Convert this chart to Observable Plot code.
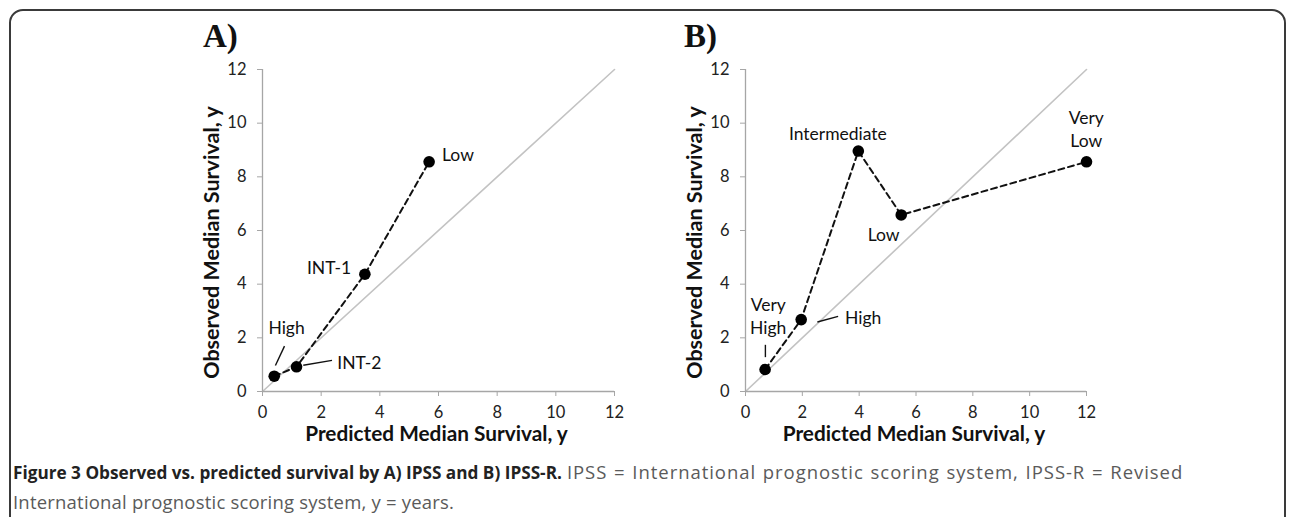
<!DOCTYPE html>
<html>
<head>
<meta charset="utf-8">
<script src="https://cdn.jsdelivr.net/npm/d3@7"></script>
<script src="https://cdn.jsdelivr.net/npm/@observablehq/plot@0.6"></script>
<style>
  html, body { margin: 0; padding: 0; background: #fff; }
  body { width: 1290px; height: 517px; position: relative; overflow: hidden; }
  #border { position: absolute; left: 9px; top: 9px; width: 1277px; height: 560px;
            border: 2px solid #3a3a3a; border-radius: 14px; box-sizing: border-box; }
  .panel { position: absolute; top: 0; }
  .ptitle { position: absolute; font-family: "Liberation Serif", "Times New Roman", serif;
            font-weight: bold; font-size: 33px; line-height: 33px; color: #111; }
  #caption { position: absolute; left: 13px; top: 457px; width: 1260px;
             font-family: "Open Sans", sans-serif; font-size: 18.5px; line-height: 29px; color: #5a5a5a;
             letter-spacing: 0.2px; }
  #caption .l1 { display: block; white-space: nowrap; }
  #caption .l1 .n { letter-spacing: 0.95px; word-spacing: 1px; }
  #caption b { color: #222; font-weight: 700; font-size: 17.2px; letter-spacing: 0; }
</style>
</head>
<body>
<div id="border"></div>
<div class="ptitle" style="left:203px; top:20px;">A)</div>
<div class="ptitle" style="left:684px; top:20px;">B)</div>
<div id="panelA" class="panel" style="left:150px;"></div>
<div id="panelB" class="panel" style="left:640px;"></div>
<div id="caption"><span class="l1"><b>Figure 3 Observed vs. predicted survival by A) IPSS and B) IPSS-R.</b> <span class="n">IPSS = International prognostic scoring system, IPSS-R = Revised</span></span>International prognostic scoring system, y = years.</div>
<script>
// ---- data ----
const tickValues = [0, 2, 4, 6, 8, 10, 12];
const xLabel = "Predicted Median Survival, y";
const yLabel = "Observed Median Survival, y";

// A) IPSS
const ipssCategories = ["High", "INT-2", "INT-1", "Low"];
const ipssPredicted = [0.40, 1.16, 3.49, 5.68];
const ipssObserved = [0.57, 0.92, 4.37, 8.56];

// B) IPSS-R
const ipssrCategories = ["Very High", "High", "Intermediate", "Low", "Very Low"];
const ipssrPredicted = [0.69, 1.96, 3.97, 5.48, 12.0];
const ipssrObserved = [0.82, 2.68, 8.96, 6.58, 8.56];

// identity reference line (predicted = observed)
const identity = [0, 12];

// label placements (data units)
const labelsA = [
  {text: "High", x: 0.82, y: 2.40, anchor: "middle"},
  {text: "INT-2", x: 2.55, y: 1.12, anchor: "start"},
  {text: "INT-1", x: 3.02, y: 4.65, anchor: "end"},
  {text: "Low", x: 6.12, y: 8.88, anchor: "start"}
];
const leadersA = [
  {x1: 0.75, y1: 1.69, x2: 0.44, y2: 0.97},
  {x1: 1.39, y1: 0.98, x2: 2.37, y2: 1.16}
];
const labelsB = [
  {text: "Very\nHigh", x: 0.80, y: 2.84, anchor: "middle"},
  {text: "High", x: 3.50, y: 2.78, anchor: "start"},
  {text: "Intermediate", x: 3.25, y: 9.66, anchor: "middle"},
  {text: "Low", x: 4.86, y: 5.87, anchor: "middle"},
  {text: "Very\nLow", x: 11.99, y: 9.80, anchor: "middle"}
];
const leadersB = [
  {x1: 0.70, y1: 1.74, x2: 0.70, y2: 1.28},
  {x1: 2.53, y1: 2.59, x2: 3.26, y2: 2.80}
];

const AXIS = "#a6a6a6";
const FONT = "Lato, 'Open Sans', sans-serif";

function labelMarks(labels) {
  return ["start", "middle", "end"].map(a =>
    Plot.text(labels.filter(d => d.anchor === a), {x: "x", y: "y", text: "text", textAnchor: a,
      lineAnchor: "middle", lineHeight: 1.3, fontSize: 17.5, fill: "#111"}));
}

function panel({cats, pred, obs, labels, leaders, marginLeft, width, frameW}) {
  const pts = cats.map((c, i) => ({cat: c, x: pred[i], y: obs[i]}));
  return Plot.plot({
    width, height: 460,
    marginLeft, marginRight: width - marginLeft - frameW,
    marginTop: 69, marginBottom: 69,
    style: {fontFamily: FONT, color: "#1a1a1a", background: "transparent", overflow: "visible"},
    x: {domain: [0, 12]},
    y: {domain: [0, 12]},
    marks: [
      Plot.line(identity.map(v => ({x: v, y: v})), {x: "x", y: "y", stroke: "#c3c3c3", strokeWidth: 1.6}),
      Plot.ruleY([0], {stroke: AXIS, strokeWidth: 1.3}),
      Plot.ruleX([0], {stroke: AXIS, strokeWidth: 1.3}),
      Plot.axisX({ticks: tickValues, tickSize: 5, tickPadding: 10, stroke: AXIS, fill: "#222", fontSize: 16.5, label: null}),
      Plot.axisY({ticks: tickValues, tickSize: 5, tickPadding: 11, stroke: AXIS, fill: "#222", fontSize: 16.5, label: null}),
      Plot.text([xLabel], {frameAnchor: "bottom", text: d => d, dy: 43, dx: -2, lineAnchor: "middle",
        fontWeight: "bold", fontSize: 20.8, fill: "#111"}),
      Plot.text([yLabel], {frameAnchor: "left", text: d => d, rotate: -90, dx: -50, dy: 12,
        textAnchor: "middle", lineAnchor: "middle",
        fontWeight: "bold", fontSize: 21.5, fill: "#111"}),
      Plot.line(pts, {x: "x", y: "y", stroke: "#111", strokeWidth: 2, strokeDasharray: "6,4"}),
      Plot.link(leaders, {x1: "x1", y1: "y1", x2: "x2", y2: "y2", stroke: "#111", strokeWidth: 1.4}),
      Plot.dot(pts, {x: "x", y: "y", r: 5.8, fill: "#000"}),
      ...labelMarks(labels)
    ]
  });
}

document.getElementById("panelA").append(panel({
  cats: ipssCategories, pred: ipssPredicted, obs: ipssObserved,
  labels: labelsA, leaders: leadersA, marginLeft: 112, width: 490, frameW: 352
}));
document.getElementById("panelB").append(panel({
  cats: ipssrCategories, pred: ipssrPredicted, obs: ipssrObserved,
  labels: labelsB, leaders: leadersB, marginLeft: 105, width: 480, frameW: 341
}));
</script>
</body>
</html>
